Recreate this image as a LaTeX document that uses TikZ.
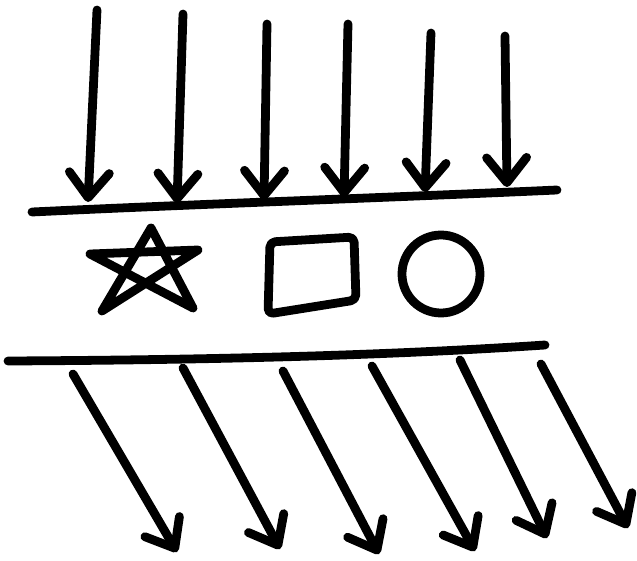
\documentclass[tikz,border=0pt]{standalone}
\usepackage{tikz}
\usetikzlibrary{arrows.meta}

\begin{document}
\begin{tikzpicture}[x=0.02cm,y=-0.02cm]
  \tikzstyle{ink}=[line width=5pt,line cap=round,line join=round]
  \tikzstyle{ray}=[ink,-{Straight Barb[length=0.5cm,width=0.8cm,line cap=round,line join=round]}]
  \useasboundingbox (0,0) rectangle (637,561);

  % incoming rays
  \coordinate (in1) at (97,10);   \coordinate (hit1) at (88,202);
  \coordinate (in2) at (183,14);  \coordinate (hit2) at (177,203);
  \coordinate (in3) at (267,24);  \coordinate (hit3) at (264,200);
  \coordinate (in4) at (348,24);  \coordinate (hit4) at (344,197);
  \coordinate (in5) at (431,33);  \coordinate (hit5) at (425,192);
  \coordinate (in6) at (505,36);  \coordinate (hit6) at (507,187);
  \draw[ray] (in1) -- (hit1);
  \draw[ray] (in2) -- (hit2);
  \draw[ray] (in3) -- (hit3);
  \draw[ray] (in4) -- (hit4);
  \draw[ray] (in5) -- (hit5);
  \draw[ray] (in6) -- (hit6);

  % the two walls
  \coordinate (wa) at (32,212);  \coordinate (wb) at (557,190);
  \coordinate (wc) at (8,361);   \coordinate (wd) at (545,345);
  \draw[ink] (wa) .. controls (200,204) and (380,198) .. (wb);
  \draw[ink] (wc) .. controls (200,360) and (380,356) .. (wd);

  % star, square, circle
  \draw[ink] (151,228) -- (102,311) -- (198,250) -- (90,254) -- (193,308) -- cycle;
  \draw[ink,rounded corners=3pt] (270,242) -- (354,237) -- (356,300) -- (268,314) -- cycle;
  \draw[ink] (441,274) ellipse [x radius=39,y radius=39];

  % outgoing rays
  \coordinate (out1) at (73,374);  \coordinate (end1) at (177,552);
  \coordinate (out2) at (183,368); \coordinate (end2) at (280,549);
  \coordinate (out3) at (283,371); \coordinate (end3) at (379,554);
  \coordinate (out4) at (372,366); \coordinate (end4) at (475,551);
  \coordinate (out5) at (460,360); \coordinate (end5) at (547,538);
  \coordinate (out6) at (541,364); \coordinate (end6) at (628,528);
  \draw[ray] (out1) -- (end1);
  \draw[ray] (out2) -- (end2);
  \draw[ray] (out3) -- (end3);
  \draw[ray] (out4) -- (end4);
  \draw[ray] (out5) -- (end5);
  \draw[ray] (out6) -- (end6);
\end{tikzpicture}
\end{document}
